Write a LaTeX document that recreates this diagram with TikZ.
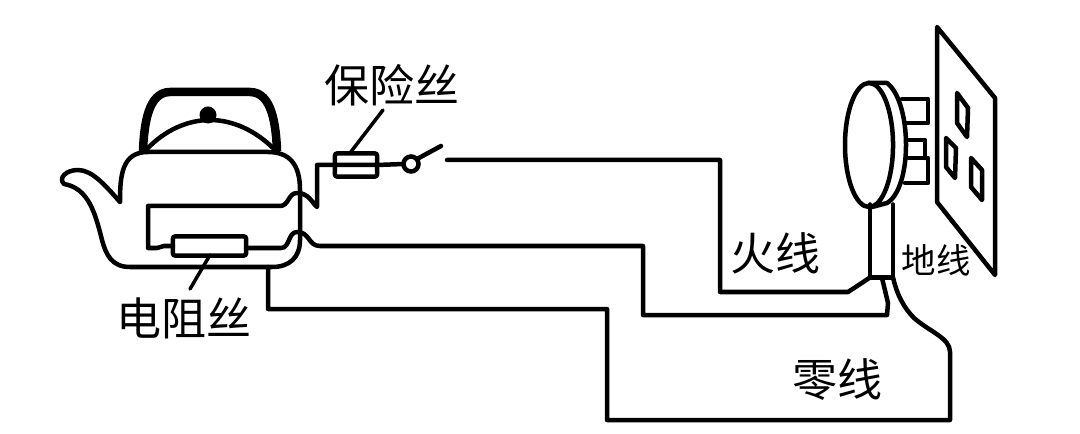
\documentclass[tikz,border=0pt]{standalone}
\usepackage{fontspec}
\setmainfont{Noto Sans CJK SC}
\usetikzlibrary{calc,positioning,shapes.geometric}

\tikzset{
    wire/.style={line width=0.045cm, line join=round, line cap=round},
    thinwire/.style={line width=0.035cm, line join=round, line cap=round},
    handle/.style={line width=0.085cm, line join=round},
    partbox/.style={draw, line width=0.045cm, rounded corners=0.02cm, inner sep=0, outer sep=0},
    biglabel/.style={inner sep=0, font=\fontsize{12.8pt}{14pt}\selectfont},
    smalllabel/.style={inner sep=0, font=\fontsize{9.8pt}{12pt}\selectfont}
}

\begin{document}
\begin{tikzpicture}[x=0.01cm, y=-0.01cm]
    \useasboundingbox (0, 0) rectangle (1080, 434);

    % kettle
    \draw[wire](120, 202) .. controls (120, 175) and (122, 152) .. (148, 152) to (268, 152)
        .. controls (290, 152) and (300, 165) .. (300, 190) to (300, 240)
        .. controls (300, 257) and (290, 267) .. (272, 267) to (130, 267)
        .. controls (112, 267) and (106, 255) .. (102, 240)
        .. controls (95, 212) and (88, 188) .. (64, 184)
        .. controls (58, 178) and (66, 170) .. (78, 170)
        .. controls (92, 170) and (105, 185) .. (120, 202);
    \draw[handle](143, 151) .. controls (144, 125) and (148, 92) .. (170, 92) to (250, 92)
        .. controls (272, 92) and (276, 125) .. (277, 151);
    \draw[wire](147, 149) .. controls (165, 130) and (188, 120) .. (210, 120)
        .. controls (232, 120) and (255, 130) .. (274, 149);
    \node[circle, fill, minimum size=0.17cm, inner sep=0] (knob) at (208, 115){};

    % parts on the wires
    \node[partbox, minimum width=0.73cm, minimum height=0.19cm] (resistor) at (209.5, 246){};
    \node[partbox, minimum width=0.42cm, minimum height=0.23cm] (fuse) at (356, 165){};
    \node[draw, circle, line width=0.045cm, minimum size=0.15cm, inner sep=0, outer sep=0] (switch) at (411, 164){};
    \coordinate (armend) at (441, 146);
    \coordinate (livestart) at (447, 160);

    % wires inside the kettle
    \draw[wire](fuse.west) to (317, 165) to (317, 207)
        .. controls (312, 203) and (309, 193) .. (297, 193)
        .. controls (288, 193) and (289, 206) .. (280, 206) to (148, 206) to (148, 248)
        to (157, 248) to (164, 246) to (resistor.west);
    \draw[wire](resistor.east |- 0, 248) to (281, 248)
        .. controls (290, 248) and (288, 232) .. (297, 232)
        .. controls (310, 232) and (308, 246) .. (320, 246) to (643, 246) to (643, 315) to (887, 315)
        to (888, 303) to (882, 278);

    % fuse and switch
    \draw[wire](fuse.west) to (fuse.east) to (switch.west);
    \draw[wire](417, 159) to (armend);

    % plug
    \node[draw, ellipse, line width=0.045cm, minimum width=0.48cm, minimum height=1.24cm, inner sep=0, outer sep=0] (plughead) at (869, 145){};
    \draw[wire](868, 83) to (887, 83) .. controls (899, 92) and (906, 118) .. (906, 145)
        .. controls (906, 172) and (899, 196) .. (887, 203) to (872, 207);
    \draw[wire](902, 99) to (928, 99) to (928, 123) to (905, 123);
    \draw[wire](908, 140) to (925, 140) to (925, 158);
    \draw[wire](908, 158) to (928, 158) to (928, 183) to (905, 183);
    \node[minimum width=0.23cm, minimum height=0.73cm, inner sep=0, outer sep=0] (stem) at (881.5, 241){};
    \draw[wire](stem.north west) to (stem.south west) to (stem.south east) to (stem.north east);

    % socket
    \draw[wire](937, 27) to (995, 98) to (995, 275) to (937, 202) -- cycle;
    \draw[wire](957, 93) to (968, 108) to (967, 137) to (957, 123) -- cycle;
    \draw[wire](946, 138) to (956, 148) to (955, 178) to (946, 167) -- cycle;
    \draw[wire](971, 158) to (982, 170) to (982, 200) to (971, 187) -- cycle;

    % live and earth
    \draw[wire](livestart) to (720, 160) to (720, 292) to (848, 292) to (stem.south west);
    \draw[wire](268, 267) to (268, 309) to (607, 309) to (607, 420) to (950, 420) to (950, 352)
        .. controls (950, 338) and (930, 332) .. (914, 318)
        .. controls (904, 308) and (897, 295) .. (stem.south east);

    % labels
    \node[biglabel] (fuselabel) at (392, 85){保险丝};
    \node[biglabel] (resistorlabel) at (184, 318){电阻丝};
    \node[biglabel] (livelabel) at (775, 253){火线};
    \node[biglabel] (neutrallabel) at (837, 380){零线};
    \node[smalllabel] (earthlabel) at (936, 260){地线};
    \coordinate (fusetip) at (383, 110);
    \coordinate (resistortip) at (190, 289);
    \draw[thinwire](fusetip) to (350, 153);
    \draw[thinwire](resistortip) to (210, 255);
\end{tikzpicture}
\end{document}
